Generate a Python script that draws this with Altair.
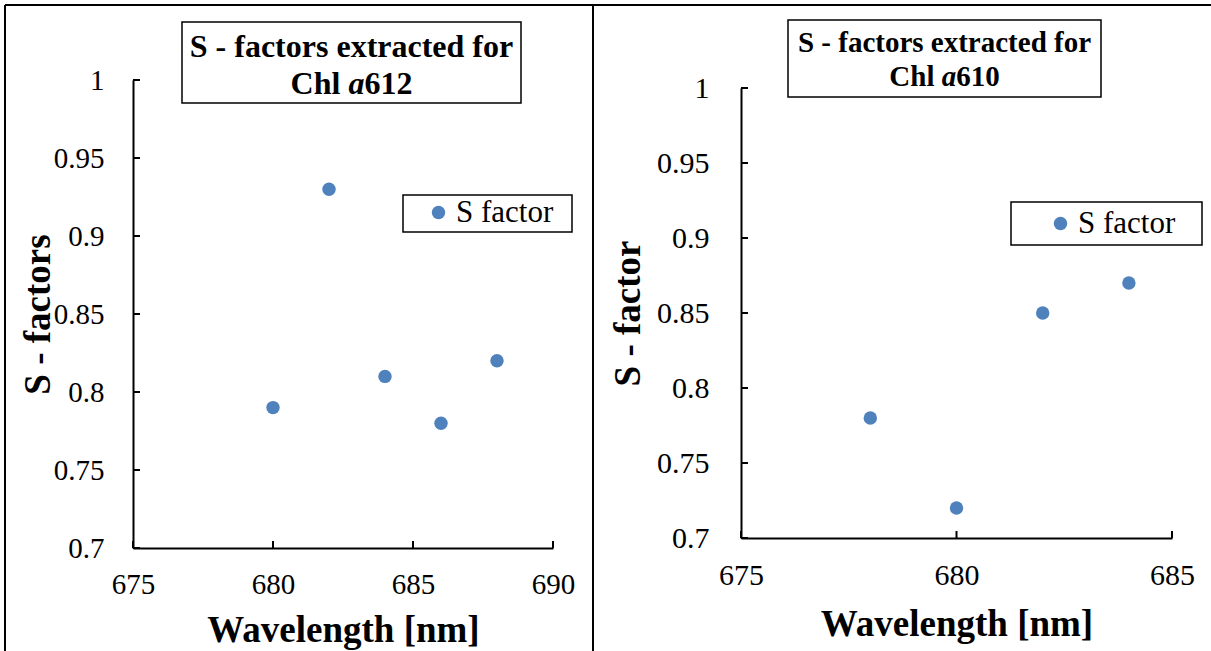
import altair as alt
import pandas as pd

W, H = 1211, 651
SERIF = "Liberation Serif"
BLUE = "#4F81BD"

# S-factor values per wavelength
wl_612 = [680, 682, 684, 686, 688]
s_612 = [0.79, 0.93, 0.81, 0.78, 0.82]
wl_610 = [678, 680, 682, 684]
s_610 = [0.78, 0.72, 0.85, 0.87]

# tick positions
y_ticks = [0.7, 0.75, 0.8, 0.85, 0.9, 0.95, 1.0]
x_ticks_612 = [675, 680, 685, 690]
x_ticks_610 = [675, 680, 685]
series_name = "S factor"


def panel(wl, s, xticks, xr, yr, ytitle, ytitle_x, xtitle_y, leg_xy, label_size, ylab_pad):
    df = pd.DataFrame({"wl": wl, "s": s, "series": series_name})
    xs = alt.Scale(domain=[xticks[0], xticks[-1]], range=xr, nice=False, zero=False)
    ys = alt.Scale(domain=[y_ticks[0], y_ticks[-1]], range=yr, nice=False, zero=False)
    x_axis = alt.Axis(
        orient="bottom", values=xticks, offset=-(H - yr[0]), ticks=False,
        grid=False, domainColor="black", domainWidth=2,
        labelFont=SERIF, labelFontSize=label_size, labelColor="black", labelPadding=22,
        labelFlush=False, labelOverlap=False,
        title="Wavelength [nm]", titleFont=SERIF, titleFontSize=37, titleFontWeight="bold",
        titleColor="black", titleX=(xr[0] + xr[1]) / 2, titleY=xtitle_y - yr[0],
        titleAlign="center", titleBaseline="middle",
    )
    y_axis = alt.Axis(
        orient="left", values=y_ticks, format=".2~f", offset=-xr[0], ticks=False,
        grid=False, domainColor="black", domainWidth=2,
        labelFont=SERIF, labelFontSize=label_size, labelColor="black", labelPadding=ylab_pad,
        labelFlush=False, labelOverlap=False,
        title=ytitle, titleFont=SERIF, titleFontSize=37, titleFontWeight="bold",
        titleColor="black", titleX=ytitle_x - xr[0], titleY=(yr[0] + yr[1]) / 2,
        titleAngle=270, titleAlign="center", titleBaseline="middle",
    )
    points = alt.Chart(df).mark_circle(size=180, opacity=1).encode(
        x=alt.X("wl:Q", scale=xs, axis=x_axis),
        y=alt.Y("s:Q", scale=ys, axis=y_axis),
        color=alt.Color(
            "series:N",
            scale=alt.Scale(domain=[series_name], range=[BLUE]),
            legend=alt.Legend(
                orient="none", legendX=leg_xy[0], legendY=leg_xy[1], title=None,
                padding=0, symbolType="circle", symbolSize=180, symbolStrokeWidth=0,
                labelFont=SERIF, labelFontSize=31, labelColor="black", labelOffset=2,
            ),
        ),
    )
    # inward tick marks on both axes
    ytick = alt.Chart(pd.DataFrame({"s": y_ticks})).mark_rule(color="black", strokeWidth=2).encode(
        y=alt.Y("s:Q", scale=ys, axis=None), x=alt.value(xr[0]), x2=alt.value(xr[0] + 7)
    )
    xtick = alt.Chart(pd.DataFrame({"wl": xticks})).mark_rule(color="black", strokeWidth=2).encode(
        x=alt.X("wl:Q", scale=xs, axis=None), y=alt.value(yr[0]), y2=alt.value(yr[0] - 7)
    )
    return [points, ytick, xtick]


left = panel(wl_612, s_612, x_ticks_612, [133, 553], [548, 80], "S - factors", 38, 630,
             (423, 197), 29, 29)
right = panel(wl_610, s_610, x_ticks_610, [741, 1172], [538, 88], "S - factor", 628, 624,
              (1045, 208), 30, 32)

one = pd.DataFrame({"k": [0]})
base = alt.Chart(one)


def box(x1, x2, y1, y2):
    return base.mark_rect(fill="white", stroke="black", strokeWidth=1.5).encode(
        x=alt.value(x1), x2=alt.value(x2), y=alt.value(y1), y2=alt.value(y2)
    )


def rule(x1, x2, y1, y2):
    return base.mark_rule(color="black", strokeWidth=2).encode(
        x=alt.value(x1), x2=alt.value(x2), y=alt.value(y1), y2=alt.value(y2)
    )


def txt(text, x, y, size, align="center", style="normal", weight="bold"):
    return base.mark_text(
        text=text, font=SERIF, fontSize=size, fontWeight=weight, fontStyle=style,
        align=align, baseline="middle", color="black",
    ).encode(x=alt.value(x), y=alt.value(y))


def chart_title(cx, y1, y2, size, num):
    # "Chl a6xx" with an italic "a", centred under the first line
    em_chl, em_sp, em_a, em_num = 1.556, 0.25, 0.5, 1.5
    total = (em_chl + em_sp + em_a + em_num) * size
    start = cx - total / 2
    xa = start + (em_chl + em_sp) * size
    return [
        txt("S - factors extracted for", cx, y1, size),
        txt("Chl", start, y2, size, align="left"),
        txt("a", xa, y2, size, align="left", style="italic"),
        txt(num, xa + em_a * size, y2, size, align="left"),
    ]


deco = [
    rule(5, W, 5, 5), rule(5, 5, 5, H), rule(593, 593, 5, H),
    box(182, 521, 22, 103), *chart_title(351.5, 47, 84, 32, "612"),
    box(788, 1101, 20, 97), *chart_title(944.5, 43, 77, 29, "610"),
    box(403, 572, 195, 232), box(1011, 1202, 202, 245),
]

chart = alt.layer(*deco, *left, *right).resolve_scale(
    x="independent", y="independent", color="independent"
).properties(
    width=W, height=H, autosize=alt.AutoSizeParams(type="none"), padding=0, background="white"
).configure_view(strokeWidth=0)

chart.save("out.html", embed_options={"renderer": "svg", "actions": False})
